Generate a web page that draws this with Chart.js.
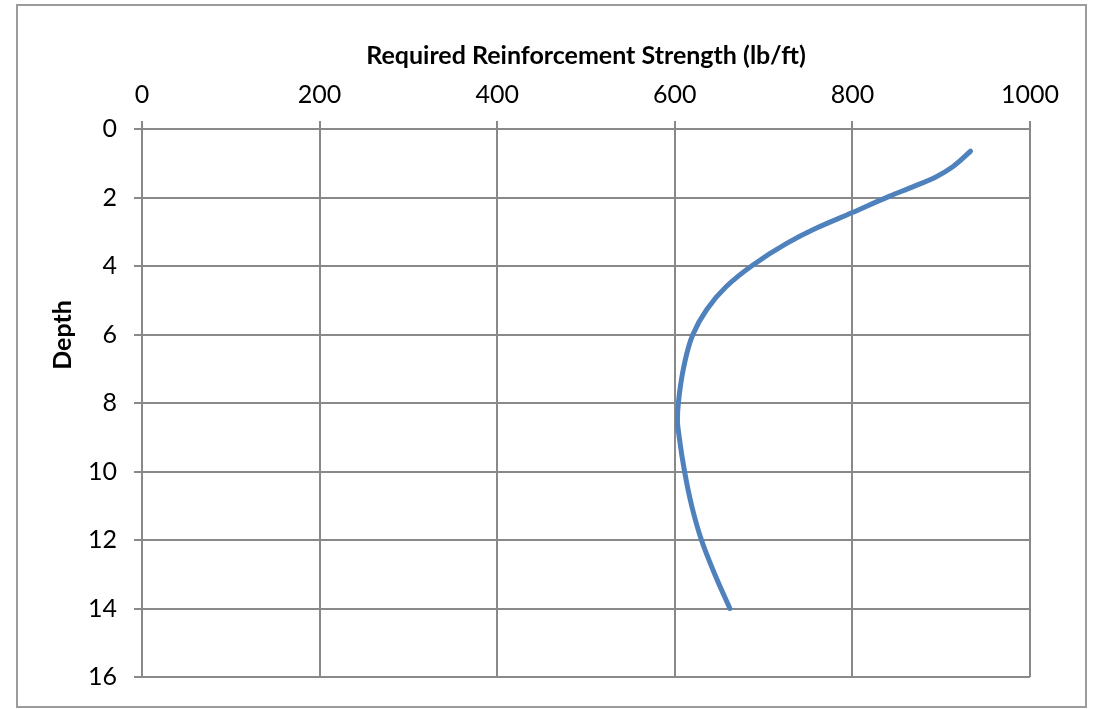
<!DOCTYPE html>
<html>
<head>
<meta charset="utf-8">
<script src="https://cdn.jsdelivr.net/npm/chart.js@4/dist/chart.umd.min.js"></script>
<style>
    html, body {margin: 0; padding: 0; background: #fff;}
    #wrap {width: 1097px; height: 709px; position: relative;}
</style>
</head>
<body>
<div id="wrap"><canvas id="appChart"></canvas></div>
<script>
// DATA
const depth = [0.65, 1.1, 1.4, 1.69, 1.96, 2.44, 2.9, 3.34, 3.97, 4.6, 5.27, 6.02, 6.83, 8.0, 8.5, 9.0, 10, 11, 12, 13, 14];
const strength = [933, 913, 894, 868, 842, 800, 759, 726, 688, 658, 636, 620, 611, 604, 603, 605, 611, 619, 630, 645, 662];
const xTitle = 'Required Reinforcement Strength (lb/ft)';
const yTitle = 'Depth';

// STYLE
const FONT = 'Lato, "Open Sans", sans-serif';
const GRID = '#898989';
const LINE = '#4f81bd';

// the outer frame and the off-centre "Depth" label
const framePlugin = {
    id: 'frame',
    beforeDraw(chart) {
        const ctx = chart.ctx;
        ctx.save();
        ctx.fillStyle = '#fff';
        ctx.fillRect(0, 0, chart.width, chart.height);
        ctx.strokeStyle = '#9c9c9c';
        ctx.lineWidth = 2;
        ctx.strokeRect(17, 5, 1069, 702);
        ctx.restore();
    },
    afterDraw(chart) {
        const ctx = chart.ctx;
        ctx.save();
        ctx.translate(62.5, 335);
        ctx.rotate(-Math.PI / 2);
        ctx.font = `bold 25px ${FONT}`;
        ctx.fillStyle = '#000';
        ctx.textAlign = 'center';
        ctx.textBaseline = 'middle';
        ctx.fillText(yTitle, 0, 0);
        ctx.restore();
    }
};

const points = depth.map((d, i) => ({x: strength[i], y: d}));

const ctx = document.getElementById('appChart').getContext('2d');
new Chart(ctx, {
    type: 'scatter',
    data: {
        datasets: [{
            data: points,
            showLine: true,
            borderColor: LINE,
            borderWidth: 5,
            borderCapStyle: 'round',
            borderJoinStyle: 'round',
            cubicInterpolationMode: 'monotone',
            pointRadius: 0,
            fill: false,
        }]
    },
    options: {
        indexAxis: 'y',
        responsive: true,
        maintainAspectRatio: false,
        animation: false,
        layout: {padding: {left: 0, top: 0, right: 67, bottom: 30}},
        plugins: {
            legend: {display: false},
            tooltip: {enabled: false},
        },
        scales: {
            x: {
                type: 'linear',
                position: 'top',
                min: 0,
                max: 1000,
                ticks: {
                    stepSize: 200, padding: 11, color: '#000',
                    font: {family: FONT, size: 25},
                    callback: (v) => String(v),
                },
                grid: {color: GRID, lineWidth: 2, tickLength: 8},
                border: {color: GRID, width: 2},
                title: {
                    display: true,
                    text: xTitle,
                    color: '#000',
                    font: {family: FONT, size: 25, weight: 'bold'},
                    padding: {top: 41, bottom: 0},
                },
                afterFit(scale) { scale.height = 129; },
            },
            y: {
                type: 'linear',
                reverse: true,
                min: 0,
                max: 16,
                ticks: {stepSize: 2, padding: 17, color: '#000', font: {family: FONT, size: 25}},
                grid: {color: GRID, lineWidth: 2, tickLength: 8},
                border: {color: GRID, width: 2},
                afterFit(scale) { scale.width = 142; },
            },
        },
    },
    plugins: [framePlugin],
});
</script>
</body>
</html>
